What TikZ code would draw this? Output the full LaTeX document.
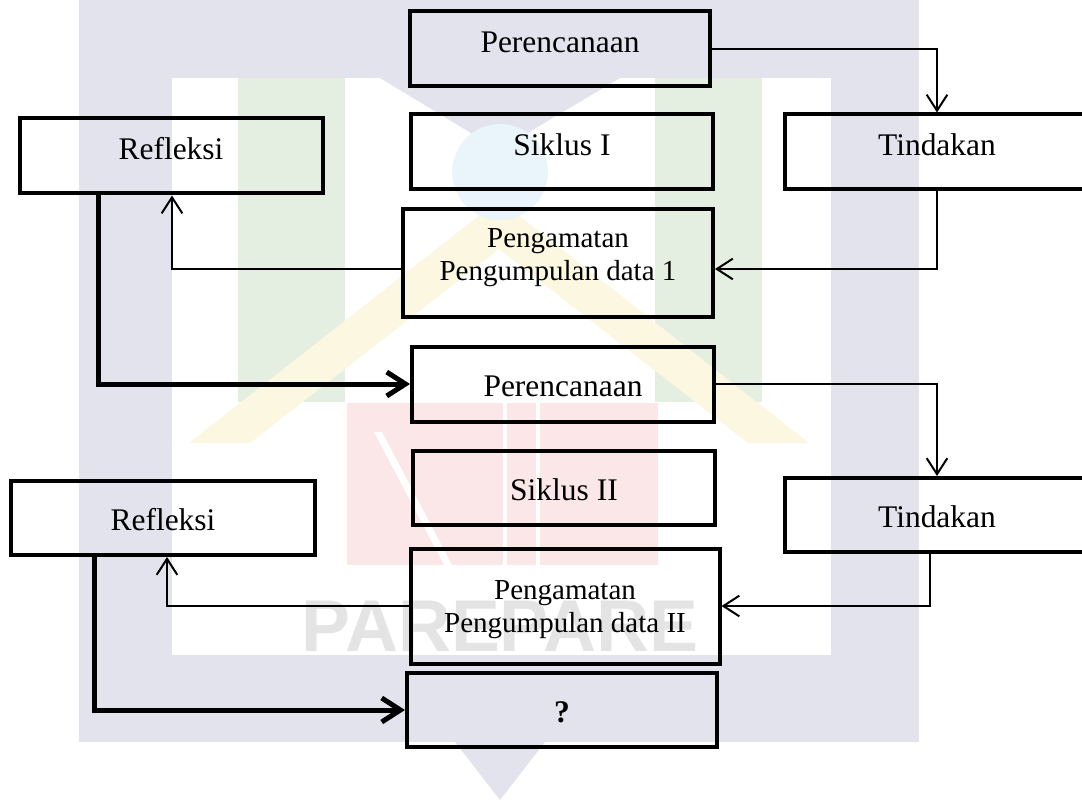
\documentclass[tikz,border=0pt]{standalone}
\usepackage{fontspec}
\setmainfont{Liberation Serif}
\newfontfamily\wmfont{Liberation Sans}
\usetikzlibrary{arrows.meta}
\definecolor{lav}{RGB}{227,227,238}
\definecolor{wgreen}{RGB}{228,239,225}
\definecolor{wgray}{RGB}{228,228,228}
\definecolor{wyellow}{RGB}{251,247,224}
\definecolor{wpink}{RGB}{251,231,231}
\definecolor{wblue}{RGB}{234,244,251}
\begin{document}
\begin{tikzpicture}[x=0.75pt,y=-0.75pt,
  box/.style 2 args={draw=black, line width=3pt, inner sep=0pt,
    minimum width=#1*0.75pt, minimum height=#2*0.75pt,
    font=\fontsize{23.6}{28}\selectfont},
  hiA/.style={text height=21pt, text depth=15.9pt},
  loA/.style={text height=21pt, text depth=2.4pt},
  two/.style={font=\fontsize{21.75}{24.75}\selectfont},
  conn/.style={line width=1.5pt, -{Straight Barb[length=12pt,width=15.5pt]}},
  strong/.style={line width=3.75pt, -{Straight Barb[length=14pt,width=18pt]}},
]
% canvas and watermark
\path[use as bounding box] (0,0) rectangle (1082,806);
\clip (0,0) rectangle (1082,806);
\fill[white] (0,0) rectangle (1082,806);
\fill[lav] (79,0) rectangle (919,742);
\fill[white] (172,78) rectangle (831,655);
\fill[lav] (380,78) -- (620,78) -- (499,150) -- cycle;
\fill[lav] (455,742) -- (545,742) -- (500,800) -- cycle;
\fill[wgreen] (238,78) rectangle (345,402);
\fill[wgreen] (655,78) rectangle (762,402);
\fill[wyellow] (189,443) -- (499,200) -- (809,443) -- (748,443) -- (499,249) -- (250,443) -- cycle;
\fill[wblue] (500,172) circle[radius=48];
\fill[wpink] (347,403) rectangle (658,565);
\fill[white] (503,403) rectangle (507,565);
\fill[white] (536,403) rectangle (540,565);
\fill[white] (374,432) -- (382,432) -- (452,565) -- (444,565) -- cycle;
\node[text=wgray, inner sep=0pt, font=\wmfont\bfseries\fontsize{55}{60}\selectfont] (wm) at (500,626) {PAREPARE};

% cycle I
\node[box={300}{75},hiA] (P1) at (560,49) {Perencanaan};
\node[box={302}{75},hiA] (S1) at (562,152) {Siklus I};
\node[box={304}{75},hiA] (T1) at (937,152) {Tindakan};
\node[box={303}{75},hiA] (R1) at (171,156) {Refleksi};
\node[box={310}{107},two] (G1) at (558,263) {\raisebox{-1pt}[0pt][0pt]{\begin{tabular}{@{}c@{}}Pengamatan\\Pengumpulan data 1\end{tabular}}};

% cycle II
\node[box={302}{75},loA] (P2) at (563,384) {Perencanaan};
\node[box={302}{74},loA] (S2) at (564,488) {Siklus II};
\node[box={304}{74},loA] (T2) at (937,515) {Tindakan};
\node[box={304}{74},loA] (R2) at (163,518) {Refleksi};
\node[box={309}{115},two] (G2) at (565,606) {\raisebox{-7.7pt}[0pt][0pt]{\begin{tabular}{@{}c@{}}Pengamatan\\Pengumpulan data II\end{tabular}}};
\node[box={310}{74},loA] (Q) at (562,710) {\textbf{?}};

% bends
\coordinate (k1) at (937,269);
\coordinate (k2) at (172,269);
\coordinate (k3) at (98,384);
\coordinate (k4) at (930,606);
\coordinate (k5) at (167,607);
\coordinate (k6) at (94,712);

% connectors
\draw[conn] (P1.east) -| (T1.north);
\draw[conn] (T1.south) |- (k1 -| G1.east);
\draw[conn] (k2 -| G1.west) -| (R1.south -| k2);
\draw[strong] (R1.south -| k3) |- (P2.west);
\draw[conn] (P2.east) -| (T2.north);
\draw[conn] (T2.south -| k4) |- (G2.east);
\draw[conn] (G2.west) -| (R2.south -| k5);
\draw[strong] (R2.south -| k6) |- (Q.west);
\end{tikzpicture}
\end{document}
